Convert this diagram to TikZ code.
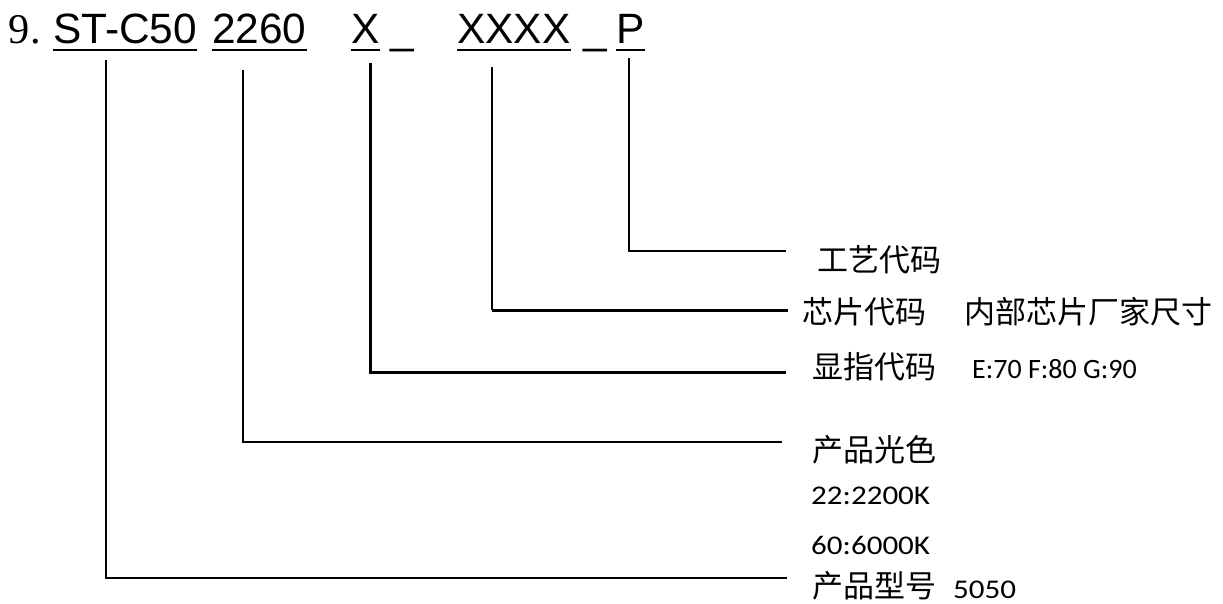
\documentclass[tikz,border=0pt]{standalone}
\usepackage{fontspec}
\setmainfont{Liberation Sans}
\newfontfamily\serifnum{Liberation Serif}
\newfontfamily\cjk{Noto Sans CJK SC}
\newfontfamily\lab{Carlito}
\newfontfamily\labw[FakeStretch=1.15]{Carlito}
\tikzset{
  codetxt/.style={anchor=base west, inner sep=0pt, font=\fontsize{42.4}{48}\selectfont},
  numtxt/.style={anchor=base west, inner sep=0pt, font=\serifnum\fontsize{42.4}{48}\selectfont},
  cjklab/.style={anchor=west, inner sep=0pt, font=\cjk\fontsize{31}{36}\selectfont},
  latlab/.style={anchor=base west, inner sep=0pt, font=\lab\fontsize{28}{32}\selectfont},
  latlabw/.style={anchor=base west, inner sep=0pt, font=\labw\fontsize{27}{32}\selectfont},
  uline/.style={line width=2.5pt},
  conn/.style={line width=1.8pt},
  connthick/.style={line width=3pt}
}
\begin{document}
\begin{tikzpicture}[x=1pt,y=-1pt]
\useasboundingbox[fill=white] (0,0) rectangle (1223,603);
% top code line
\node[numtxt] (n9) at (8.7,43) {9.};
\node[codetxt] (c1) at (53,43) {ST-C50};
\node[codetxt] (c2) at (212,43) {2260};
\node[codetxt] (c3) at (351,43) {X};
\node[codetxt] (u1) at (390,43) {\_};
\node[codetxt] (c4) at (457,43) {XXXX};
\node[codetxt] (u2) at (583,43) {\_};
\node[codetxt] (c5) at (616,43) {P};
\foreach \c in {c1,c2,c3,c4,c5}
  \draw[uline] ([yshift=-7pt]\c.base west) -- ([yshift=-7pt]\c.base east);
% labels
\node[cjklab] (l5) at (817,260) {工艺代码};
\node[cjklab] (l4) at (802,312) {芯片代码};
\node[cjklab] (l4b) at (964,312) {内部芯片厂家尺寸};
\node[cjklab] (l3) at (812,367) {显指代码};
\node[latlab] (l3b) at (972,378) {E:70 F:80 G:90};
\node[cjklab] (l2) at (812,450) {产品光色};
\node[latlabw] (l2b) at (811,504) {22:2200K};
\node[latlabw] (l2c) at (811,554) {60:6000K};
\node[cjklab] (l1) at (812,586) {产品型号};
\node[latlabw] (l1b) at (953,598) {5050};
% connectors
\coordinate (s1) at (106,60);  \coordinate (e1) at (787,578);
\coordinate (s2) at (243,70);  \coordinate (e2) at (782,442);
\coordinate (s3) at (370,63);  \coordinate (e3) at (786,372);
\coordinate (s4) at (492,67);  \coordinate (e4) at (788,310);
\coordinate (s5) at (629,58);  \coordinate (e5) at (786,251);
\draw[conn] (s1) |- (e1);
\draw[conn] (s2) |- (e2);
\draw[connthick] (s3) |- (e3);
\draw[conn] (s4) -- (s4 |- e4);
\draw[connthick] (s4 |- e4) -- (e4);
\draw[conn] (s5) |- (e5);
\end{tikzpicture}
\end{document}
